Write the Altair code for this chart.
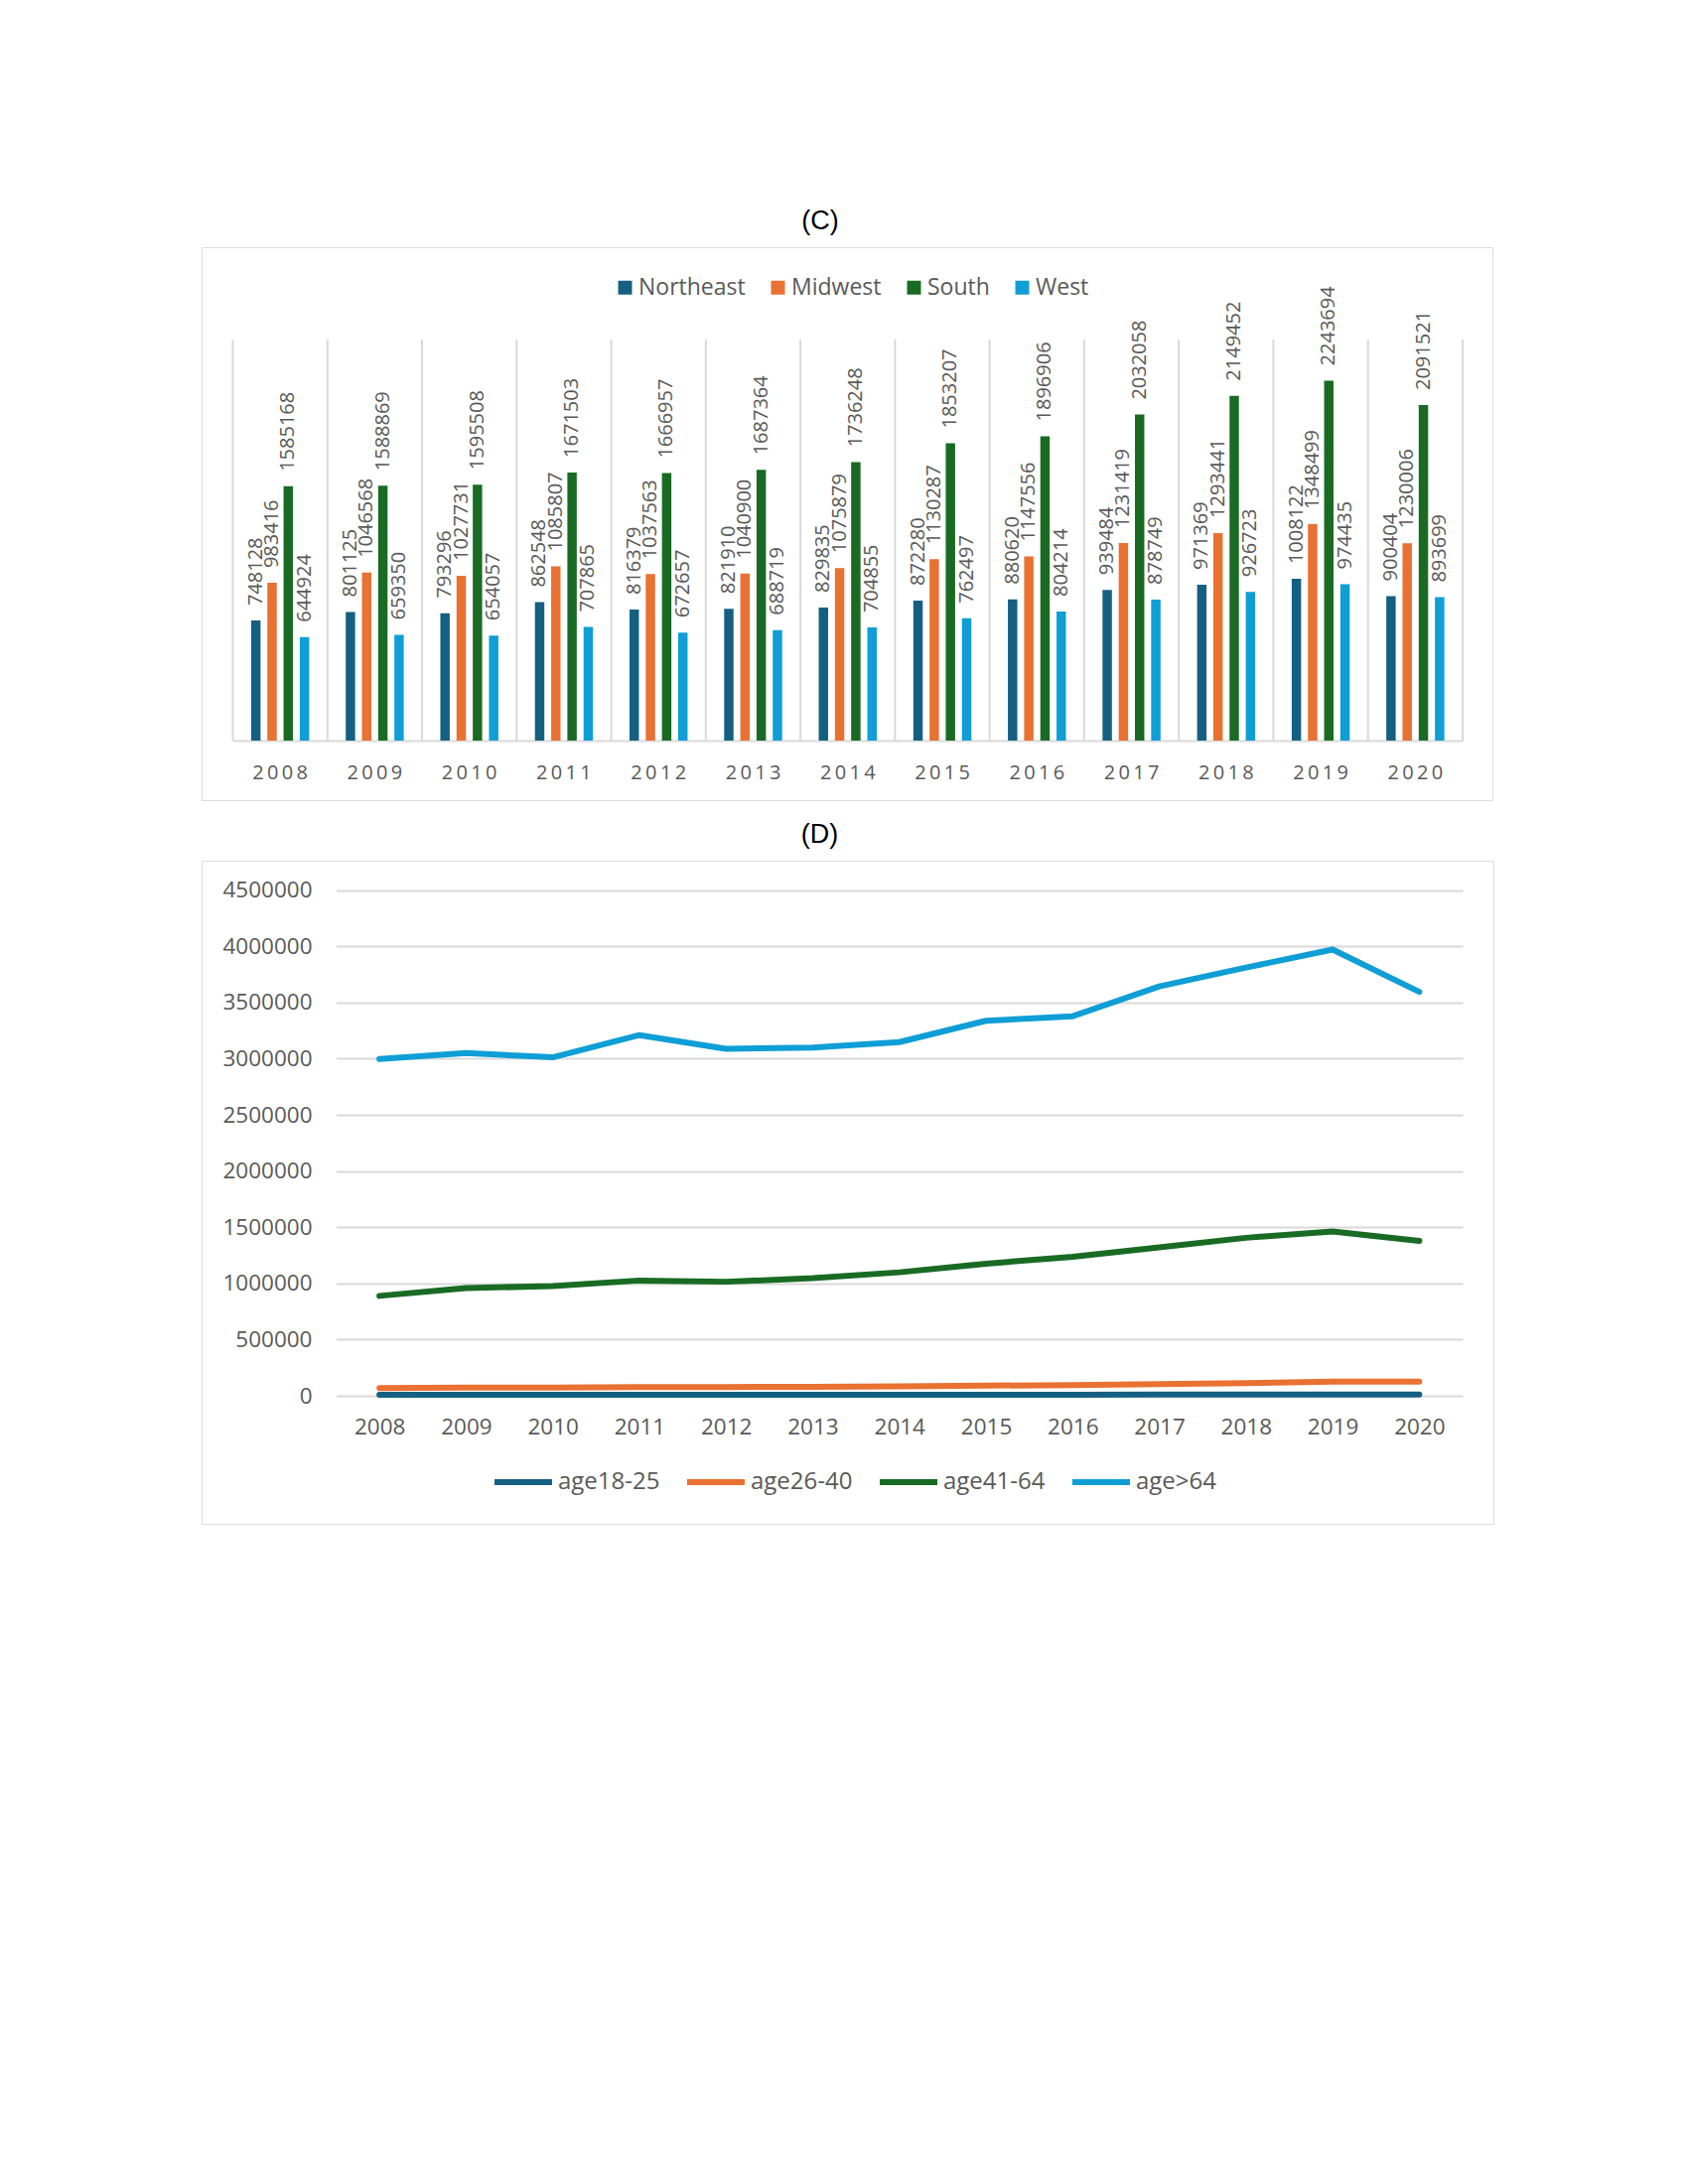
import altair as alt
import pandas as pd

# ---------------- data ----------------
years = [str(y) for y in range(2008, 2021)]
regions = ["Northeast", "Midwest", "South", "West"]
northeast = [748128, 801125, 793296, 862548, 816379, 821910, 829835, 872280, 880620, 939484, 971369, 1008122, 900404]
midwest = [983416, 1046568, 1027731, 1085807, 1037563, 1040900, 1075879, 1130287, 1147556, 1231419, 1293441, 1348499, 1230006]
south = [1585168, 1588869, 1595508, 1671503, 1666957, 1687364, 1736248, 1853207, 1896906, 2032058, 2149452, 2243694, 2091521]
west = [644924, 659350, 654057, 707865, 672657, 688719, 704855, 762497, 804214, 878749, 926723, 974435, 893699]

age_groups = ["age18-25", "age26-40", "age41-64", "age>64"]
age18_25 = [8000, 8500, 8700, 9000, 8800, 9000, 9200, 9500, 9800, 10200, 10800, 11500, 10500]
age26_40 = [68000, 72000, 74000, 78000, 78000, 80000, 84000, 90000, 96000, 103000, 112000, 125000, 126000]
age41_64 = [889000, 958000, 977000, 1026000, 1015000, 1046000, 1099000, 1176000, 1237000, 1321000, 1406000, 1463000, 1379000]
age_over64 = [2998000, 3050000, 3012000, 3210000, 3088000, 3100000, 3148000, 3338000, 3378000, 3644000, 3811000, 3972000, 3595000]

y_ticks_d = [0, 500000, 1000000, 1500000, 2000000, 2500000, 3000000, 3500000, 4000000, 4500000]
palette = ["#156082", "#E97132", "#196B24", "#0F9ED5"]

FONT = "Open Sans"
TITLE_FONT = "Liberation Sans"
GRAY_TXT = "#595959"
GRID = "#d9d9d9"

bar_df = pd.DataFrame({
    "year": years * 4,
    "region": [r for r in regions for _ in years],
    "count": northeast + midwest + south + west,
})
sep_df = pd.DataFrame({"year": years})
sep_end_df = pd.DataFrame({"year": years[-1:]})
line_df = pd.DataFrame({
    "year": years * 4,
    "group": [g for g in age_groups for _ in years],
    "value": age18_25 + age26_40 + age41_64 + age_over64,
})

# ---------------- chart C ----------------
W_C, H_C = 1300, 557
xc_scale = alt.Scale(domain=years, range=[31.5, 1270], paddingInner=0, paddingOuter=0)
xc_axis = alt.Axis(
    orient="bottom", offset=-60, title=None, grid=False,
    ticks=False, domain=True, domainColor=GRID, domainWidth=2,
    labelAngle=0, labelPadding=22, labelFont=FONT, labelFontSize=20, labelColor=GRAY_TXT,
    labelExpr="join(split(datum.label, ''), '\u2009')",
)
xc = alt.X("year:N", sort=years, scale=xc_scale, axis=xc_axis)
yc_scale = alt.Scale(domain=[0, 2500000], range=[497, 93], nice=False)
xoff = alt.XOffset("region:N", sort=regions,
                   scale=alt.Scale(range=[15.0, 80.3], paddingInner=0.42, paddingOuter=0.21))
yc = alt.Y("count:Q", scale=yc_scale, axis=None)
colc = alt.Color(
    "region:N", sort=regions,
    scale=alt.Scale(domain=regions, range=palette),
    legend=alt.Legend(
        orient="none", legendX=415, legendY=29, direction="horizontal", title=None,
        symbolType="square", symbolSize=196, symbolStrokeWidth=0,
        labelFont=FONT, labelFontSize=23, labelColor=GRAY_TXT,
        labelOffset=2, columnPadding=21,
    ),
)

# group separators (light vertical lines at the year band edges)
sep_left = alt.Chart(sep_df).mark_rule(color=GRID, strokeWidth=2).encode(
    x=alt.X("year:N", sort=years, scale=xc_scale, bandPosition=0, axis=xc_axis),
    y=alt.Y(datum=0, scale=yc_scale, axis=None),
    y2=alt.Y2(datum=2500000),
)
sep_right = alt.Chart(sep_end_df).mark_rule(color=GRID, strokeWidth=2).encode(
    x=alt.X("year:N", sort=years, scale=xc_scale, bandPosition=1, axis=xc_axis),
    y=alt.Y(datum=0, scale=yc_scale, axis=None),
    y2=alt.Y2(datum=2500000),
)

base_c = alt.Chart(bar_df).encode(x=xc, xOffset=xoff, y=yc)
bars = base_c.mark_bar().encode(color=colc)
labels = base_c.mark_text(
    angle=270, align="left", baseline="middle", dx=15,
    font=FONT, fontSize=20, color=GRAY_TXT,
).encode(text=alt.Text("count:Q", format="d"))

chart_c = alt.layer(sep_left, sep_right, bars, labels).properties(
    width=W_C, height=H_C,
    title=alt.Title("(C)", font=TITLE_FONT, fontSize=27, fontWeight="normal", color="#000000",
                    offset=12, dx=-27, frame="group"),
)

# ---------------- chart D ----------------
W_D, H_D = 1301, 668
xd = alt.X(
    "year:O", sort=years,
    scale=alt.Scale(type="point", range=[135.5, 1270], padding=0.5),
    axis=alt.Axis(
        orient="bottom", offset=-129, title=None, grid=False, ticks=False, domain=False,
        labelAngle=0, labelPadding=20, labelFont=FONT, labelFontSize=22.5, labelColor=GRAY_TXT,
    ),
)
yd = alt.Y(
    "value:Q",
    scale=alt.Scale(domain=[0, 4500000], range=[539, 29.7], nice=False),
    axis=alt.Axis(
        orient="left", offset=-135.5, values=y_ticks_d, format="d", title=None,
        grid=True, gridColor=GRID, gridWidth=2, ticks=False, domain=False,
        labelPadding=24.5, labelFont=FONT, labelFontSize=22.5, labelColor=GRAY_TXT,
    ),
)
cold = alt.Color(
    "group:N", sort=age_groups,
    scale=alt.Scale(domain=age_groups, range=palette),
    legend=alt.Legend(
        orient="none", legendX=292, legendY=594, direction="horizontal", title=None,
        symbolType="stroke", symbolSize=3364, symbolStrokeWidth=6,
        labelFont=FONT, labelFontSize=24, labelColor=GRAY_TXT,
        labelOffset=3, columnPadding=15,
    ),
)
lines = alt.Chart(line_df).mark_line(strokeWidth=6, strokeCap="round", strokeJoin="round").encode(
    x=xd, y=yd, color=cold, order=alt.Order("group:N")
)
chart_d = alt.layer(lines).properties(
    width=W_D, height=H_D,
    title=alt.Title("(D)", font=TITLE_FONT, fontSize=27, fontWeight="normal", color="#000000",
                    offset=12, dx=-28, frame="group"),
)

chart = alt.vconcat(chart_c, chart_d, spacing=19).resolve_scale(
    color="independent", x="independent", y="independent"
).properties(
    padding={"left": 194, "top": 200, "right": 10, "bottom": 10}
).configure_view(stroke=GRID, strokeWidth=2).configure(background="white")

chart.save("out.html", embed_options={"renderer": "svg", "actions": False})
